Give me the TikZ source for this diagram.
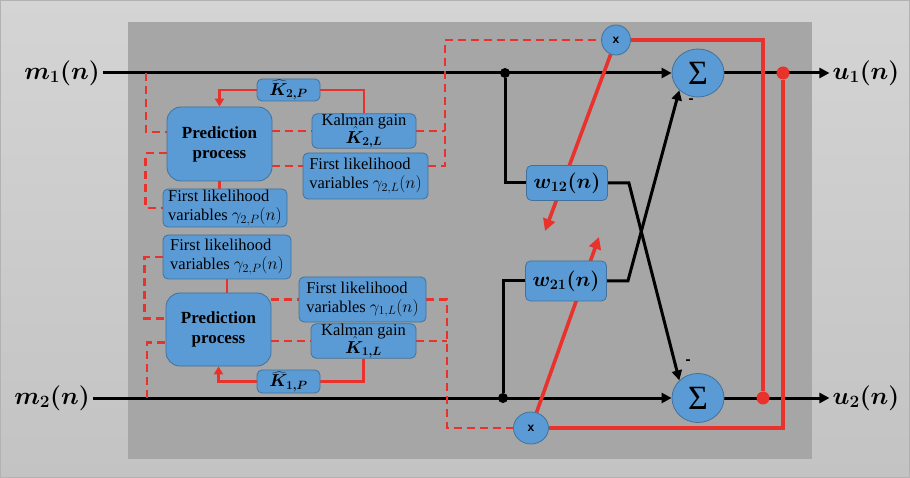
\documentclass[tikz,border=0pt]{standalone}
\usepackage{fontspec}
\setmainfont{Liberation Serif}
\newfontfamily\xfont{Liberation Sans}
\usepackage{bm}
\usetikzlibrary{arrows.meta, positioning, shapes.geometric, backgrounds}
\definecolor{boxblue}{HTML}{5B9BD5}
\definecolor{boxedge}{HTML}{41719C}
\definecolor{fbred}{HTML}{E8322B}
\definecolor{panelgray}{HTML}{A6A6A6}
\definecolor{outtop}{HTML}{D4D4D4}
\definecolor{outbot}{HTML}{C3C3C3}
\definecolor{edgegray}{HTML}{B2B2B2}

\begin{document}
\begin{tikzpicture}[
    x=1pt, y=-1pt,
    block/.style={rectangle, draw=boxedge, fill=boxblue, line width=0.8pt, rounded corners=5pt, inner sep=0pt, align=left, font=\fontsize{16.5}{19}\selectfont},
    pred/.style={block, rounded corners=14pt, align=center, font=\fontsize{17}{20}\selectfont\bfseries},
    adder/.style={ellipse, draw=boxedge, fill=boxblue, line width=0.8pt, inner sep=0pt, font=\fontsize{34}{34}\selectfont},
    mult/.style={ellipse, draw=boxedge, fill=boxblue, line width=0.8pt, inner sep=0pt, font=\fontsize{12}{12}\xfont\bfseries},
    dot/.style={circle, fill=black, inner sep=0pt, minimum size=10pt},
    reddot/.style={circle, fill=fbred, inner sep=0pt, minimum size=13pt},
    signal/.style={inner sep=3pt, font=\fontsize{24}{28}\selectfont},
    minus/.style={inner sep=0pt, font=\fontsize{15}{15}\xfont\bfseries},
    wire/.style={line width=3pt, black},
    arrow/.style={wire, -{Triangle[length=10pt, width=10pt]}},
    fb/.style={line width=3.6pt, fbred},
    fbarrow/.style={fb, -{Triangle[length=12pt, width=12pt]}},
    link/.style={line width=2.6pt, fbred},
    linkarrow/.style={link, -{Triangle[length=8pt, width=9pt]}},
    fbdash/.style={line width=2.9pt, fbred, dash pattern=on 8pt off 5pt},
]
\useasboundingbox (0,0) rectangle (910,478);

% Backdrop
\begin{pgfonlayer}{background}
\shade[top color=outtop, bottom color=outbot] (0,0) rectangle (910,478);
\draw[edgegray, line width=2pt] (0,0) rectangle (910,478);
\fill[panelgray] (128,22) rectangle (812,459);
\end{pgfonlayer}

% Inputs and outputs
\node[signal] (m1) at (62,73) {$\bm{m_{1}(n)}$};
\node[signal] (m2) at (52,398) {$\bm{m_{2}(n)}$};
\node[signal] (u1) at (866,73) {$\bm{u_{1}(n)}$};
\node[signal] (u2) at (866,398) {$\bm{u_{2}(n)}$};

% Adders and multipliers
\node[adder, minimum width=52pt, minimum height=48pt] (sum1) at (698,73) {Σ};
\node[adder, minimum width=52pt, minimum height=49pt] (sum2) at (698,398) {Σ};
\node[minus] (neg1) at (691,101) {-};
\node[minus] (neg2) at (688,362) {-};
\node[mult, minimum width=29pt, minimum height=30pt] (x1) at (616,40) {x};
\node[mult, minimum width=35pt, minimum height=32pt] (x2) at (531,428) {x};

% Adaptive weights
\node[block, minimum width=81pt, minimum height=35pt, font=\fontsize{22}{22}\selectfont] (w12) at (567,183) {$\bm{w_{12}(n)}$};
\node[block, minimum width=81pt, minimum height=40pt, font=\fontsize{22}{22}\selectfont] (w21) at (566,281) {$\bm{w_{21}(n)}$};

% Junctions
\node[dot] (j1) at (505,73) {};
\node[dot] (j2) at (503,398) {};
\node[reddot] (r1) at (783,73) {};
\node[reddot] (r2) at (763,398) {};
\coordinate (tap1) at (146,73);
\coordinate (tap2) at (147,398);
\coordinate (bend1) at (445,40);
\coordinate (bend2) at (447,428);
\coordinate (t12) at (545,231);
\coordinate (t21) at (599,237);

% Upper estimator
\node[pred, minimum width=105pt, minimum height=74pt] (pred1) at (219.5,144) {Prediction\\process};
\node[block, minimum width=63pt, minimum height=22pt] (kp2) at (288.5,90) {$\widehat{\bm{K}}_{\bm{2,P}}$};
\node[block, align=center, minimum width=104pt, minimum height=34pt] (kal2) at (364,131) {Kalman gain\\[-3pt]$\hat{\bm{K}}_{\bm{2,L}}$};
\node[block, minimum width=125pt, minimum height=46pt] (gl2) at (365.5,176) {First likelihood\\variables $\gamma_{2,L}(n)$};
\node[block, minimum width=124pt, minimum height=38pt] (gp2a) at (225,208) {First likelihood\\variables $\gamma_{2,P}(n)$};

% Lower estimator
\node[block, minimum width=128pt, minimum height=44pt] (gp2b) at (227,257) {First likelihood\\variables $\gamma_{2,P}(n)$};
\node[pred, minimum width=105pt, minimum height=73pt] (pred2) at (218.5,329.5) {Prediction\\process};
\node[block, minimum width=127pt, minimum height=45pt] (gl1) at (362.5,299.5) {First likelihood\\variables $\gamma_{1,L}(n)$};
\node[block, align=center, minimum width=105pt, minimum height=34pt] (kal1) at (363.5,341) {Kalman gain\\[-3pt]$\hat{\bm{K}}_{\bm{1,L}}$};
\node[block, minimum width=63pt, minimum height=23pt] (kp1) at (288.5,381.5) {$\widehat{\bm{K}}_{\bm{1,P}}$};

\begin{scope}[on background layer]
% Signal paths
\draw[arrow] (m1) -- (sum1);
\draw[arrow] (m2) -- (sum2);
\draw[arrow] (sum1) -- (u1);
\draw[arrow] (sum2) -- (u2);
\draw[wire] (j1) |- (w12);
\draw[wire] (j2) |- (w21);
\draw[arrow] (w12.east) -- ++(21,0) -- (sum2.north west);
\draw[arrow] (w21.east) -- ++(21,0) -- (sum1.south west);

% Weight update
\draw[fb] (x1.east) -| (r2);
\draw[fb] (r1) |- (x2.east);
\draw[fbarrow] (x1) -- (t12);
\draw[fbarrow] (x2) -- (t21);

% Upper estimator links
\draw[fbdash] (tap1) |- ([yshift=12pt]pred1.west);
\draw[fbdash] ([yshift=-9pt]pred1.west) -- ++(-21,0) |- (gp2a.west);
\draw[fbdash] (pred1.east |- kal2) -- (kal2.west);
\draw[fbdash] ([yshift=-22pt]pred1.east) -- ([yshift=10pt]gl2.west);
\draw[fbdash] ([yshift=10pt]gl2.east) -| (bend1) -- (x1.west);
\draw[fbdash] (kal2.east) -- (kal2.east -| bend1);
\draw[link] (pred1.south) -- (pred1.south |- gp2a.north);
\draw[linkarrow] (kp2.west) -| (pred1.north);
\draw[link] (kp2.east) -| (kal2.north);

% Lower estimator links
\draw[fbdash] (gp2b.west) -- ++(-18,0) |- ([yshift=11pt]pred2.west);
\draw[fbdash] (tap2) |- ([yshift=-13pt]pred2.west);
\draw[fbdash] (pred2.east |- gl1) -- (gl1.west);
\draw[fbdash] (pred2.east |- kal1) -- (kal1.west);
\draw[fbdash] (gl1.east) -| (bend2) -- (x2.west);
\draw[fbdash] (kal1.east) -- (kal1.east -| bend2);
\draw[link] (gp2b.south) -- (gp2b.south |- pred2.north);
\draw[link] (kal1.south) |- (kp1.east);
\draw[linkarrow] (kp1.west) -| (pred2.south);
\end{scope}

\end{tikzpicture}
\end{document}
